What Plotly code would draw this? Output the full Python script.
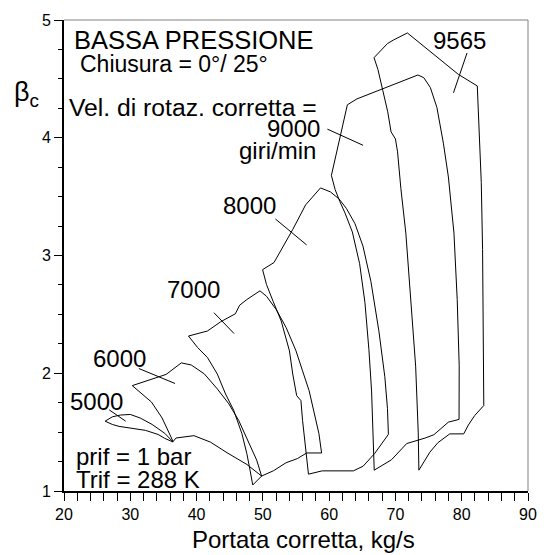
import plotly.graph_objects as go

# ---------------- data ----------------
# closed outlines of each corrected-speed map region (x = portata corretta kg/s, y = beta_c)
speed_5000_x = [26.2, 27.3, 28.5, 30.0, 31.5, 33.3, 35.2, 36.46, 35.2, 34.2, 32.3, 29.8, 28.3, 27.3, 26.2]
speed_5000_y = [1.593, 1.63, 1.645, 1.65, 1.62, 1.565, 1.49, 1.416, 1.447, 1.48, 1.515, 1.537, 1.549, 1.565, 1.593]

speed_6000_x = [30.3, 33.2, 34.8, 36.46, 36.9, 39.6, 42.1, 44.6, 47.6, 49.81,
                49.07, 47.83, 46.35, 44.87, 43.13, 41.16, 39.2, 37.7, 35.4, 30.3]
speed_6000_y = [1.895, 1.755, 1.62, 1.42, 1.45, 1.47, 1.415, 1.325, 1.225, 1.127,
                1.262, 1.416, 1.60, 1.74, 1.867, 1.995, 2.07, 2.088, 1.99, 1.895]

speed_7000_x = [38.78, 40.17, 41.65, 43.13, 44.37, 45.61, 46.84, 47.58, 48.07, 48.47,
                49.81, 51.6, 53.5, 55.2, 56.6, 58.86,
                58.46, 57.72, 56.98, 55.99, 55.0, 53.52, 52.03, 50.55, 49.56,
                47.58, 46.5, 45.85, 43.63, 41.65, 38.78]
speed_7000_y = [2.316, 2.218, 2.133, 1.993, 1.824, 1.684, 1.487, 1.318, 1.177, 1.051,
                1.127, 1.172, 1.24, 1.275, 1.323, 1.323,
                1.487, 1.684, 1.852, 2.02, 2.19, 2.387, 2.54, 2.654, 2.70,
                2.626, 2.578, 2.505, 2.437, 2.359, 2.316]

speed_8000_x = [49.96, 50.55, 51.54, 52.77, 54.01, 54.51, 55.1, 55.74, 55.99, 56.38, 56.88,
                58.95, 63.65, 65.13, 66.86, 68.94,
                68.8, 68.4, 67.5, 66.3, 65.1, 63.9, 62.6, 61.5, 60.2, 58.7,
                56.45, 54.5, 53.1, 51.68, 49.96]
speed_8000_y = [2.88, 2.753, 2.612, 2.443, 2.19, 1.993, 1.81, 1.768, 1.60, 1.374, 1.143,
                1.171, 1.171, 1.211, 1.318, 1.481,
                1.70, 1.97, 2.36, 2.78, 3.08, 3.27, 3.40, 3.48, 3.54, 3.574,
                3.43, 3.22, 3.08, 2.94, 2.88]

speed_9000_x = [60.34, 60.9, 61.6, 62.4, 63.5, 64.6, 65.4, 66.0, 66.4, 66.6, 66.8,
                69.4, 71.7, 74.5, 75.8, 77.99, 79.6,
                79.62, 79.32, 78.83, 77.99, 77.25, 76.26, 75.27, 74.28, 73.39,
                64.2, 62.75, 60.34]
speed_9000_y = [3.68, 3.56, 3.46, 3.36, 3.2, 2.93, 2.6, 2.2, 1.85, 1.5, 1.177,
                1.265, 1.403, 1.45, 1.478, 1.585, 1.608,
                2.063, 2.626, 3.19, 3.667, 3.948, 4.257, 4.426, 4.51, 4.533,
                4.33, 4.28, 3.68]

speed_9565_x = [66.77, 67.36, 68.1, 68.84, 69.34, 70.0, 70.32, 70.82, 71.57, 72.3, 73.05, 73.44, 73.54,
                75.2, 76.4, 78.2, 80.3, 81.0, 81.95, 83.33,
                83.25, 83.15, 82.95, 82.69, 82.35,
                79.5, 71.8, 69.7, 68.8, 66.77]
speed_9565_y = [4.68, 4.58, 4.40, 4.22, 4.05, 3.99, 3.88, 3.57, 3.19, 2.63, 2.06, 1.50, 1.177,
                1.33, 1.41, 1.485, 1.485, 1.56, 1.64, 1.726,
                2.5, 3.05, 3.62, 4.03, 4.44,
                4.538, 4.89, 4.83, 4.80, 4.68]

# leader lines from the speed labels
leader_5000_x, leader_5000_y = [26.82, 29.3], [1.689, 1.593]
leader_6000_x, leader_6000_y = [31.3, 36.75], [2.04, 1.913]
leader_7000_x, leader_7000_y = [42.62, 45.66], [2.514, 2.337]
leader_8000_x, leader_8000_y = [51.9, 56.6], [3.31, 3.09]
leader_9000_x, leader_9000_y = [59.74, 65.12], [4.073, 3.936]
leader_9565_x, leader_9565_y = [80.8, 78.76], [4.72, 4.382]

x_ticks = [20, 30, 40, 50, 60, 70, 80, 90]
y_ticks = [1, 2, 3, 4, 5]

# ---------------- figure ----------------
fig = go.Figure()

outlines = [
    (speed_5000_x, speed_5000_y), (speed_6000_x, speed_6000_y), (speed_7000_x, speed_7000_y),
    (speed_8000_x, speed_8000_y), (speed_9000_x, speed_9000_y), (speed_9565_x, speed_9565_y),
    (leader_5000_x, leader_5000_y), (leader_6000_x, leader_6000_y), (leader_7000_x, leader_7000_y),
    (leader_8000_x, leader_8000_y), (leader_9000_x, leader_9000_y), (leader_9565_x, leader_9565_y),
]
for xs, ys in outlines:
    fig.add_trace(go.Scatter(x=xs, y=ys, mode="lines",
                             line=dict(color="black", width=1),
                             hoverinfo="skip", showlegend=False))

FONT = "Liberation Sans, Arial, sans-serif"

def txt(x, y, s, xanchor="left", size=24, xref="x", yref="y"):
    fig.add_annotation(x=x, y=y, xref=xref, yref=yref, text=s, showarrow=False,
                       xanchor=xanchor, yanchor="middle", borderpad=0,
                       font=dict(family=FONT, size=size, color="black"))

txt(21.3, 4.827, "BASSA PRESSIONE", size=25.5)
txt(22.3, 4.63, "Chiusura = 0°/ 25°", size=23)
txt(20.55, 4.257, "Vel. di rotaz. corretta =", size=24.7)
txt(58.8, 4.075, "9000", xanchor="right")
txt(58.2, 3.892, "giri/min", xanchor="right")
txt(48.03, 3.422, "8000", xanchor="center")
txt(39.58, 2.713, "7000", xanchor="center")
txt(28.38, 2.122, "6000", xanchor="center")
txt(24.9, 1.764, "5000", xanchor="center")
txt(79.62, 4.827, "9565", xanchor="center")
txt(21.63, 1.295, "prif = 1 bar")
txt(21.63, 1.097, "Trif = 288 K")

# axis titles
txt(-0.0805, 0.842, "β<sub>c</sub>", xanchor="center", size=27, xref="paper", yref="paper")
txt(0.517, -0.103, "Portata corretta, kg/s", xanchor="center", size=24, xref="paper", yref="paper")

# grey frame on top and right
fig.add_shape(type="line", xref="paper", yref="paper", x0=0, x1=1, y0=1, y1=1,
              line=dict(color="#808080", width=1))
fig.add_shape(type="line", xref="paper", yref="paper", x0=1, x1=1, y0=0, y1=1,
              line=dict(color="#808080", width=1))

tickfont = dict(family=FONT, size=16, color="black")
fig.update_layout(
    width=549, height=555,
    margin=dict(l=64, r=13, t=17, b=64),
    paper_bgcolor="white", plot_bgcolor="white",
    xaxis=dict(range=[20, 90], tickvals=x_ticks, ticktext=[str(v) for v in x_ticks],
               ticks="outside", ticklen=8, tickwidth=1, tickcolor="black",
               showline=True, linewidth=2, linecolor="black",
               showgrid=False, zeroline=False, tickfont=tickfont,
               minor=dict(dtick=2, ticks="outside", ticklen=8, tickwidth=1,
                          tickcolor="black", showgrid=False)),
    yaxis=dict(range=[1, 5], tickvals=y_ticks, ticktext=[str(v) for v in y_ticks],
               ticks="outside", ticklen=8, tickwidth=1, tickcolor="black",
               showline=True, linewidth=2, linecolor="black",
               showgrid=False, zeroline=False, tickfont=tickfont,
               minor=dict(dtick=0.25, ticks="outside", ticklen=4, tickwidth=1,
                          tickcolor="black", showgrid=False)),
)

fig.write_html("out.html")
